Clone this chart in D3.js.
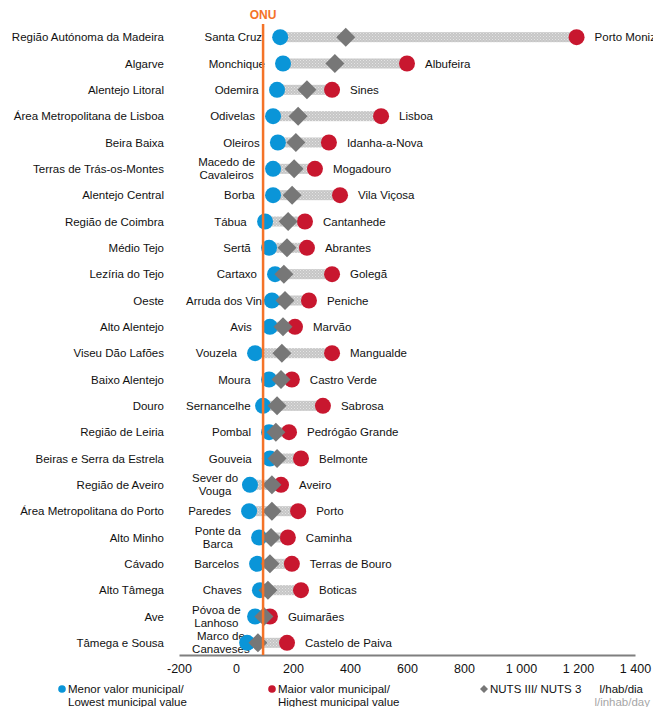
<!DOCTYPE html>
<html><head><meta charset="utf-8">
<script src="https://cdn.jsdelivr.net/npm/d3@7"></script>
<style>
html,body{margin:0;padding:0;background:#fff;}
text{font-family:"Liberation Sans",Arial,sans-serif;}
</style></head>
<body><svg id="c" width="653" height="707"></svg>
<script>
const regions = ["Região Autónoma da Madeira","Algarve","Alentejo Litoral","Área Metropolitana de Lisboa","Beira Baixa","Terras de Trás-os-Montes","Alentejo Central","Região de Coimbra","Médio Tejo","Lezíria do Tejo","Oeste","Alto Alentejo","Viseu Dão Lafões","Baixo Alentejo","Douro","Região de Leiria","Beiras e Serra da Estrela","Região de Aveiro","Área Metropolitana do Porto","Alto Minho","Cávado","Alto Tâmega","Ave","Tâmega e Sousa"];
const minNames = ["Santa Cruz","Monchique","Odemira","Odivelas","Oleiros","Macedo de|Cavaleiros","Borba","Tábua","Sertã","Cartaxo","Arruda dos Vinhos","Avis","Vouzela","Moura","Sernancelhe","Pombal","Gouveia","Sever do|Vouga","Paredes","Ponte da|Barca","Barcelos","Chaves","Póvoa de|Lanhoso","Marco de|Canaveses"];
const maxNames = ["Porto Moniz","Albufeira","Sines","Lisboa","Idanha-a-Nova","Mogadouro","Vila Viçosa","Cantanhede","Abrantes","Golegã","Peniche","Marvão","Mangualde","Castro Verde","Sabrosa","Pedrógão Grande","Belmonte","Aveiro","Porto","Caminha","Terras de Bouro","Boticas","Guimarães","Castelo de Paiva"];
const minValues = [155,165,144,130,147,130,130,102,116,137,126,119,67,116,95,116,119,49,46,81,74,84,67,39];
const nutsValues = [385,347,249,218,210,204,197,183,179,168,172,165,161,158,144,140,144,126,126,123,119,112,98,77];
const maxValues = [1195,600,337,509,326,277,365,242,249,337,256,207,337,196,305,186,228,158,218,182,196,228,119,179];
const onuValue = 95;
const xTicks = [-200,0,200,400,600,800,1000,1200,1400];

const svg = d3.select("#c");
const BLUE="#0a95d8", RED="#c8172f", GREY="#777777", ORANGE="#f47328";
const FS = 11.5;
const x = d3.scaleLinear().domain([-200,1400]).range([179,635]);
const y = d3.scaleBand().domain(regions).range([24,656]).padding(0);
const cy = r => y(r) + y.bandwidth()/2;

const defs = svg.append("defs");
const pat = defs.append("pattern").attr("id","tex").attr("width",3).attr("height",3).attr("patternUnits","userSpaceOnUse");
pat.append("rect").attr("width",3).attr("height",3).attr("fill","#c6c6c6");
pat.append("rect").attr("width",1).attr("height",1).attr("fill","#e4e4e4");
pat.append("rect").attr("x",1.5).attr("y",1.5).attr("width",1).attr("height",1).attr("fill","#dedede");

const data = regions.map((r,i)=>({r, mn:minValues[i], nu:nutsValues[i], mx:maxValues[i], mnName:minNames[i], mxName:maxNames[i]}));

// region labels
svg.append("g").selectAll("text").data(data).join("text")
  .attr("x",164).attr("y",d=>cy(d.r)).attr("dy","0.35em")
  .attr("text-anchor","end").attr("font-size",FS).attr("fill","#111").text(d=>d.r);

// bars
svg.append("g").selectAll("rect").data(data).join("rect")
  .attr("x",d=>x(d.mn)).attr("width",d=>x(d.mx)-x(d.mn))
  .attr("y",d=>cy(d.r)-5).attr("height",10).attr("fill","url(#tex)");

// min labels
const gMin = svg.append("g");
data.forEach(d=>{
  const lines = d.mnName.split("|");
  const t = gMin.append("text").attr("font-size",FS).attr("fill","#111").attr("text-anchor","middle");
  lines.forEach((ln,k)=>{
    t.append("tspan").attr("x",0).attr("y",cy(d.r) + (lines.length===1?0:(k===0?-6.5:6.5))).attr("dy","0.35em").text(ln);
  });
  const w = t.node().getBBox().width;
  let right = x(d.mn) - 18;
  let left = right - w;
  const minLeft = lines.length > 1 ? 192 : 186;
  if (left < minLeft) { left = minLeft; }
  t.selectAll("tspan").attr("x", left + w/2);
});

// max labels
svg.append("g").selectAll("text").data(data).join("text")
  .attr("x",d=>x(d.mx)+18).attr("y",d=>cy(d.r)).attr("dy","0.35em")
  .attr("font-size",FS).attr("fill","#111").text(d=>d.mxName);

// points
svg.append("g").selectAll("circle").data(data).join("circle")
  .attr("cx",d=>x(d.mn)).attr("cy",d=>cy(d.r)).attr("r",8).attr("fill",BLUE);
svg.append("g").selectAll("circle").data(data).join("circle")
  .attr("cx",d=>x(d.mx)).attr("cy",d=>cy(d.r)).attr("r",8).attr("fill",RED);
const dsz = 9.5;
svg.append("g").selectAll("path").data(data).join("path")
  .attr("d",d=>{const X=x(d.nu),Y=cy(d.r);return `M${X},${Y-dsz}L${X+dsz},${Y}L${X},${Y+dsz}L${X-dsz},${Y}Z`;})
  .attr("fill",GREY);

// axis
const ax = svg.append("g").attr("transform","translate(0,655)")
  .call(d3.axisBottom(x).tickValues(xTicks).tickSize(0).tickPadding(9)
    .tickFormat(v=>d3.format(",")(v).replace(/,/g," ").replace("−","-")));
ax.select(".domain").attr("stroke","#7f7f7f").attr("stroke-width",2);
ax.selectAll("text").attr("font-size",12.5).attr("fill","#111").attr("font-family","Liberation Sans, Arial, sans-serif");

// ONU line
svg.append("line").attr("x1",x(onuValue)).attr("x2",x(onuValue)).attr("y1",24).attr("y2",655)
  .attr("stroke",ORANGE).attr("stroke-width",2.5);
svg.append("text").attr("x",x(onuValue)).attr("y",19).attr("text-anchor","middle")
  .attr("font-size",12).attr("font-weight","bold").attr("fill",ORANGE).text("ONU");

// legend
const lg = svg.append("g").attr("font-size",FS).attr("fill","#111");
lg.append("circle").attr("cx",62).attr("cy",689).attr("r",3.8).attr("fill",BLUE);
lg.append("text").attr("x",68).attr("y",689).attr("dy","0.35em").text("Menor valor municipal/");
lg.append("text").attr("x",68).attr("y",702).attr("dy","0.35em").text("Lowest municipal value");
lg.append("circle").attr("cx",272).attr("cy",689).attr("r",3.8).attr("fill",RED);
lg.append("text").attr("x",278).attr("y",689).attr("dy","0.35em").text("Maior valor municipal/");
lg.append("text").attr("x",278).attr("y",702).attr("dy","0.35em").text("Highest municipal value");
lg.append("path").attr("d","M484,685L488,689L484,693L480,689Z").attr("fill",GREY);
lg.append("text").attr("x",490).attr("y",689).attr("dy","0.35em").text("NUTS III/ NUTS 3");
lg.append("text").attr("x",643).attr("y",689).attr("dy","0.35em").attr("text-anchor","end").text("l/hab/dia");
lg.append("text").attr("x",650).attr("y",702).attr("dy","0.35em").attr("text-anchor","end").attr("fill","#a6a6a6").text("l/inhab/day");
</script></body></html>
